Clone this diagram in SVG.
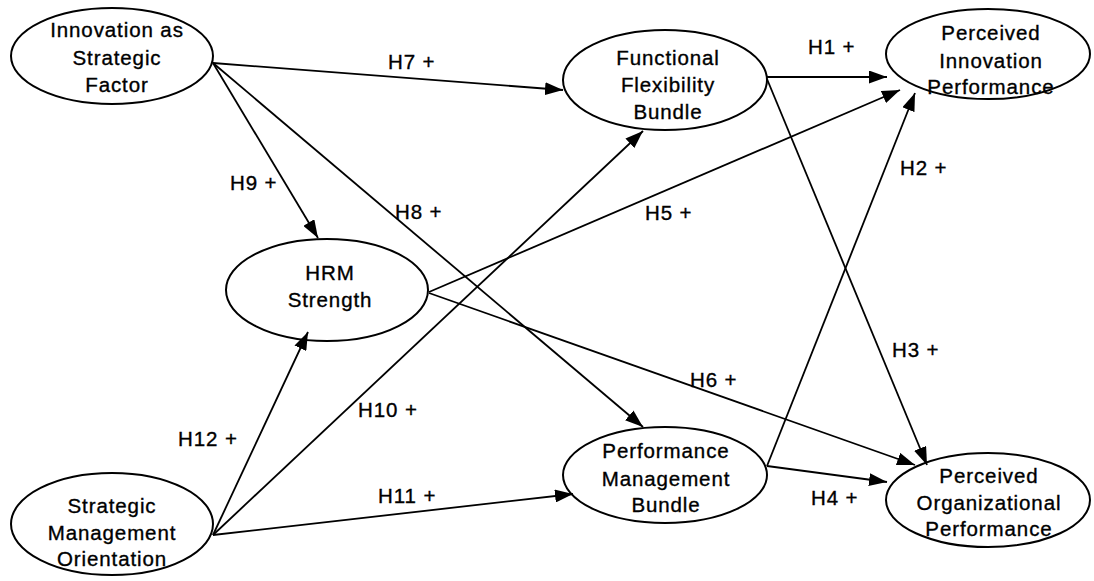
<svg xmlns="http://www.w3.org/2000/svg" width="1094" height="581" viewBox="0 0 1094 581">
<style>
.node ellipse{fill:#fff;stroke:#000;stroke-width:2}
.node text,.lbl{font-family:"Liberation Sans",Arial,Helvetica,sans-serif;font-size:20.5px;letter-spacing:0.9px;fill:#000;stroke:#000;stroke-width:0.35}
.node text{text-anchor:middle}
.edges line{stroke:#000;stroke-width:1.8;marker-end:url(#ah)}
</style>
<defs>
<marker id="ah" markerUnits="userSpaceOnUse" markerWidth="18" markerHeight="13" refX="18" refY="6.5" orient="auto">
<path d="M0,0 L18,6.5 L0,13 z" fill="#000"/>
</marker>
</defs>
<rect width="1094" height="581" fill="#fff"/>
<g id="n-isf" class="node"><ellipse cx="112" cy="56" rx="101" ry="48"/><text x="117" y="37">Innovation as</text><text x="117" y="65">Strategic</text><text x="117" y="92">Factor</text></g>
<g id="n-ffb" class="node"><ellipse cx="665" cy="80" rx="102" ry="50"/><text x="668" y="65">Functional</text><text x="668" y="92">Flexibility</text><text x="668" y="119">Bundle</text></g>
<g id="n-pip" class="node"><ellipse cx="988" cy="54" rx="102" ry="45"/><text x="991" y="40">Perceived</text><text x="991" y="68">Innovation</text><text x="991" y="94">Performance</text></g>
<g id="n-hrm" class="node"><ellipse cx="327" cy="290" rx="101" ry="51"/><text x="330" y="280">HRM</text><text x="330" y="307">Strength</text></g>
<g id="n-smo" class="node"><ellipse cx="112" cy="524" rx="101" ry="51"/><text x="112" y="513">Strategic</text><text x="112" y="540">Management</text><text x="112" y="566">Orientation</text></g>
<g id="n-pmb" class="node"><ellipse cx="665" cy="475" rx="102" ry="48"/><text x="666" y="458">Performance</text><text x="666" y="486">Management</text><text x="666" y="512">Bundle</text></g>
<g id="n-pop" class="node"><ellipse cx="988" cy="500" rx="102" ry="47"/><text x="989" y="483">Perceived</text><text x="989" y="510">Organizational</text><text x="989" y="536">Performance</text></g>
<g id="connectors" class="edges">
<line x1="213" y1="63" x2="563" y2="90"/>
<line x1="213" y1="63" x2="318" y2="238"/>
<line x1="213" y1="63" x2="643" y2="427"/>
<line x1="767" y1="77" x2="887" y2="77"/>
<line x1="767" y1="79" x2="927" y2="465"/>
<line x1="429" y1="292" x2="900" y2="90"/>
<line x1="429" y1="293" x2="915" y2="465"/>
<line x1="213" y1="535" x2="308" y2="332"/>
<line x1="213" y1="535" x2="643" y2="131"/>
<line x1="213" y1="535" x2="573" y2="494"/>
<line x1="767" y1="466" x2="915" y2="93"/>
<line x1="767" y1="466" x2="887" y2="482"/>
</g>
<g id="labels">
<text class="lbl" x="388" y="69">H7 +</text>
<text class="lbl" x="808" y="54">H1 +</text>
<text class="lbl" x="230" y="190">H9 +</text>
<text class="lbl" x="395" y="219">H8 +</text>
<text class="lbl" x="645" y="220">H5 +</text>
<text class="lbl" x="900" y="175">H2 +</text>
<text class="lbl" x="892" y="357">H3 +</text>
<text class="lbl" x="690" y="387">H6 +</text>
<text class="lbl" x="358" y="417">H10 +</text>
<text class="lbl" x="178" y="446">H12 +</text>
<text class="lbl" x="378" y="503">H11 +</text>
<text class="lbl" x="811" y="505">H4 +</text>
</g>
</svg>
